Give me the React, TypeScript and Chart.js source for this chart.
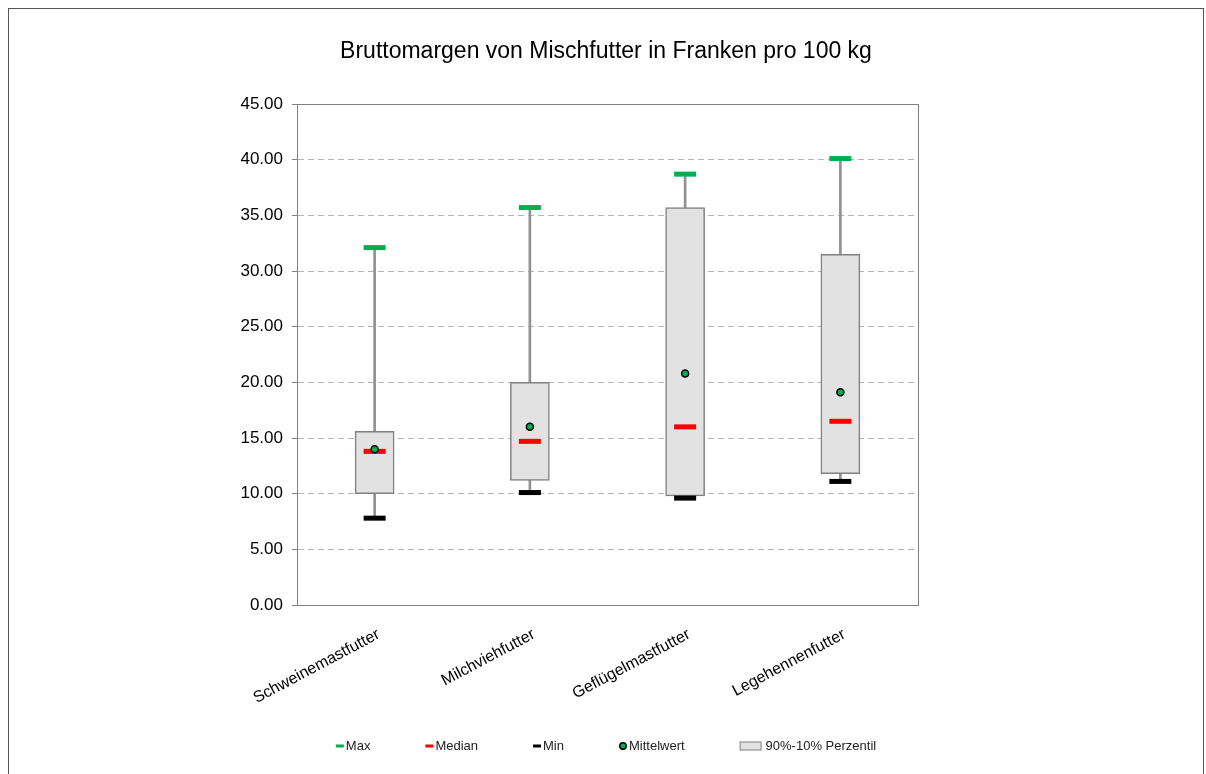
import React, { useEffect, useRef } from "react";
import { Chart, registerables } from "chart.js";

Chart.register(...registerables);

const categories = ["Schweinemastfutter", "Milchviehfutter", "Geflügelmastfutter", "Legehennenfutter"];
const maxValues = [32.1, 35.7, 38.7, 40.1];
const p90Values = [15.6, 20.0, 35.7, 31.5];
const p10Values = [10.0, 11.2, 9.8, 11.8];
const medianValues = [13.8, 14.7, 16.0, 16.5];
const meanValues = [14.0, 16.0, 20.8, 19.1];
const minValues = [7.8, 10.1, 9.6, 11.1];
const legendLabels = ["Max", "Median", "Min", "Mittelwert", "90%-10% Perzentil"];
const titleText = "Bruttomargen von Mischfutter in Franken pro 100 kg";

const FONT = "'Liberation Sans', Arial, sans-serif";
const GREEN = "#00b050";
const RED = "#ff0000";
const BLACK = "#000000";
const BOX_FILL = "#e2e2e2";
const BOX_LINE = "#808080";

const plotBorder = {
  id: "plotBorder",
  afterDatasetsDraw(chart: any) {
    const { ctx, chartArea } = chart;
    ctx.save();
    ctx.strokeStyle = BOX_LINE;
    ctx.lineWidth = 1;
    ctx.strokeRect(
      Math.round(chartArea.left) + 0.5,
      Math.round(chartArea.top) + 0.5,
      Math.round(chartArea.right - chartArea.left),
      Math.round(chartArea.bottom - chartArea.top)
    );
    ctx.restore();
  },
};

const centeredTitle = {
  id: "centeredTitle",
  afterDraw(chart: any) {
    const ctx = chart.ctx;
    ctx.save();
    ctx.font = `23px ${FONT}`;
    ctx.fillStyle = "#000";
    ctx.textAlign = "center";
    ctx.textBaseline = "middle";
    ctx.fillText(titleText, chart.width / 2, 43);
    ctx.restore();
  },
};

const customLegend = {
  id: "customLegend",
  afterDraw(chart: any) {
    const ctx = chart.ctx;
    ctx.save();
    ctx.font = `13px ${FONT}`;
    ctx.textBaseline = "middle";
    const y = 737;
    const markerW = [8, 8, 8, 8, 21];
    const markerGap = [2, 2, 2, 2, 5];
    const spacing = 55;
    const widths = legendLabels.map((t, i) => markerW[i] + markerGap[i] + ctx.measureText(t).width);
    const total = widths.reduce((a, b) => a + b, 0) + spacing * (legendLabels.length - 1);
    let x = chart.width / 2 - total / 2;
    legendLabels.forEach((t, i) => {
      if (i < 3) {
        ctx.fillStyle = [GREEN, RED, BLACK][i];
        ctx.fillRect(x, y - 1.5, 8, 3);
      } else if (i === 3) {
        ctx.beginPath();
        ctx.arc(x + 4, y, 3.2, 0, Math.PI * 2);
        ctx.fillStyle = GREEN;
        ctx.fill();
        ctx.lineWidth = 1.5;
        ctx.strokeStyle = BLACK;
        ctx.stroke();
      } else {
        ctx.fillStyle = BOX_FILL;
        ctx.fillRect(x + 0.5, y - 4, 21, 8);
        ctx.strokeStyle = BOX_LINE;
        ctx.lineWidth = 1;
        ctx.strokeRect(x + 0.5, y - 4, 21, 8);
      }
      ctx.fillStyle = "#222";
      ctx.textAlign = "left";
      ctx.fillText(t, x + markerW[i] + markerGap[i], y);
      x += widths[i] + spacing;
    });
    ctx.restore();
  },
};

function markerDataset(label: string, data: number[], color: string, order: number) {
  return {
    type: "line" as const,
    label,
    data,
    showLine: false,
    pointStyle: "line",
    pointRadius: 11,
    pointBorderWidth: 5,
    pointBorderColor: color,
    pointBackgroundColor: color,
    borderColor: color,
    order,
  };
}

export default function App() {
  const canvasRef = useRef<HTMLCanvasElement | null>(null);

  useEffect(() => {
    if (!canvasRef.current) return;
    const chart = new Chart(canvasRef.current, {
      type: "bar",
      data: {
        labels: categories,
        datasets: [
          {
            type: "bar",
            label: "Whisker",
            data: minValues.map((m, i) => [m, maxValues[i]]),
            grouped: false,
            barThickness: 2,
            backgroundColor: "#919191",
            borderWidth: 0,
            order: 10,
          } as any,
          {
            type: "bar",
            label: "90%-10% Perzentil",
            data: p10Values.map((p, i) => [p, p90Values[i]]),
            grouped: false,
            barThickness: 39,
            backgroundColor: BOX_FILL,
            borderColor: BOX_LINE,
            borderWidth: 1.5,
            borderSkipped: false,
            order: 5,
          } as any,
          markerDataset("Max", maxValues, GREEN, 2),
          markerDataset("Median", medianValues, RED, 2),
          markerDataset("Min", minValues, BLACK, 2),
          {
            type: "line",
            label: "Mittelwert",
            data: meanValues,
            showLine: false,
            pointStyle: "circle",
            pointRadius: 3.5,
            pointBorderWidth: 1.5,
            pointBackgroundColor: GREEN,
            pointBorderColor: BLACK,
            order: 0,
          } as any,
        ],
      },
      options: {
        responsive: false,
        animation: false,
        events: [],
        layout: { padding: { left: 208, right: 285, top: 95, bottom: 49 } },
        plugins: {
          legend: { display: false },
          tooltip: { enabled: false },
          title: { display: false },
        },
        scales: {
          x: {
            offset: true,
            grid: { display: false, drawTicks: false },
            border: { display: true, color: BOX_LINE, width: 1 },
            ticks: {
              color: "#000",
              font: { family: FONT, size: 16 },
              minRotation: 28,
              maxRotation: 28,
              autoSkip: false,
              labelOffset: 4,
              padding: 20,
            },
            afterFit: (scale: any) => {
              scale.height = 120;
            },
          },
          y: {
            min: 0,
            max: 45,
            grid: {
              color: "#b4b4b4",
              lineWidth: 1,
              drawTicks: true,
              tickLength: 5,
              tickColor: BOX_LINE,
              tickBorderDash: [],
            } as any,
            border: { display: true, color: BOX_LINE, width: 1, dash: [6, 4] } as any,
            ticks: {
              stepSize: 5,
              color: "#000",
              padding: 9,
              font: { family: FONT, size: 17 },
              callback: (v: any) => Number(v).toFixed(2),
            },
            afterFit: (scale: any) => {
              scale.width = 80;
            },
          },
        },
      },
      plugins: [plotBorder, centeredTitle, customLegend],
    } as any);
    return () => chart.destroy();
  }, []);

  return (
    <div
      style={{
        position: "absolute",
        left: 8,
        top: 8,
        width: 1194,
        height: 765,
        borderTop: "1px solid #555",
        borderLeft: "1px solid #555",
        borderRight: "1px solid #555",
        background: "#fff",
      }}
    >
      <canvas ref={canvasRef} width={1194} height={765} style={{ display: "block" }} />
    </div>
  );
}
